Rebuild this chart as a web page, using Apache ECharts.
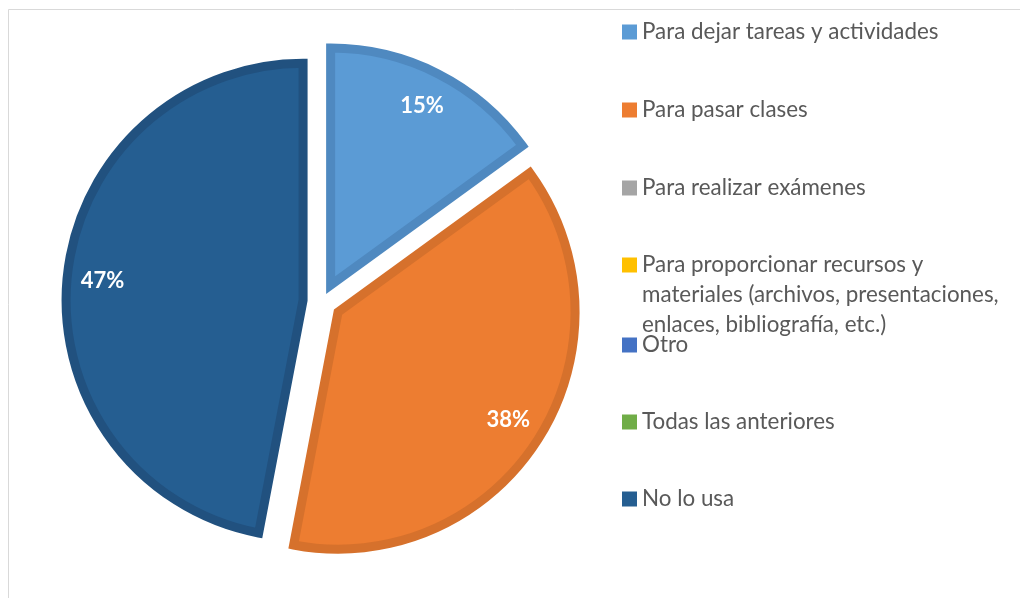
<!DOCTYPE html>
<html>
<head>
<meta charset="utf-8">
<script src="https://cdn.jsdelivr.net/npm/echarts@6/dist/echarts.min.js"></script>
<style>
html,body{margin:0;padding:0;background:#fff;}
#chart{width:1020px;height:598px;}
</style>
</head>
<body>
<div id="chart"></div>
<script>
const categories = [
  'Para dejar tareas y actividades',
  'Para pasar clases',
  'Para realizar exámenes',
  'Para proporcionar recursos y\nmateriales (archivos, presentaciones,\nenlaces, bibliografía, etc.)',
  'Otro',
  'Todas las anteriores',
  'No lo usa'
];
const values = [15, 38, 0, 0, 0, 0, 47];
const colors = ['#5B9BD5', '#ED7D31', '#A5A5A5', '#FFC000', '#4472C4', '#70AD47', '#255E91'];
const borderColors = ['#4F89C0', '#D6712C', '#959595', '#E6AD00', '#3D66B0', '#65A040', '#21517F'];

const chart = echarts.init(document.getElementById('chart'), null, {renderer: 'canvas'});

const mainData = categories.map((name, i) => ({
  name: name,
  value: values[i],
  selected: values[i] > 0,
  itemStyle: {
    color: colors[i],
    borderColor: borderColors[i],
    borderWidth: values[i] > 0 ? 9 : 0
  }
}));
const labelData = categories.map((name, i) => ({
  name: name,
  value: values[i],
  selected: values[i] > 0
}));

const FONT = 'Lato';
const legendText = {color: '#595959', fontFamily: FONT, fontSize: 22.4, lineHeight: 30};
const legendBase = {
  orient: 'vertical',
  left: 622,
  padding: 0,
  itemWidth: 15,
  itemHeight: 15,
  itemTextGap: 4,
  icon: 'rect',
  itemStyle: {borderWidth: 0},
  selectedMode: false,
  textStyle: legendText
};

chart.setOption({
  animation: false,
  backgroundColor: '#fff',
  color: colors,
  graphic: [{
    type: 'rect',
    silent: true,
    shape: {x: 8.5, y: 9.5, width: 1200, height: 800},
    style: {fill: 'none', stroke: '#D9D9D9', lineWidth: 1}
  }],
  legend: [
    Object.assign({}, legendBase, {
      top: 17, itemGap: 48,
      data: [categories[0], categories[1], categories[2]]
    }),
    Object.assign({}, legendBase, {
      top: 190,
      formatter: name => '\n\n' + name,
      data: [categories[3]]
    }),
    Object.assign({}, legendBase, {
      top: 330, itemGap: 47,
      data: [categories[4], categories[5], categories[6]]
    })
  ],
  series: [{
    type: 'pie',
    center: [322, 302],
    radius: [0, 237],
    startAngle: 90,
    clockwise: true,
    selectedMode: 'multiple',
    selectedOffset: 19,
    avoidLabelOverlap: false,
    percentPrecision: 0,
    silent: true,
    emphasis: {disabled: true},
    itemStyle: {borderJoin: 'miter', borderMiterLimit: 10},
    label: {show: false},
    labelLine: {show: false},
    data: mainData
  }, {
    type: 'pie',
    center: [322, 302],
    radius: [160, 237],
    startAngle: 90,
    clockwise: true,
    selectedMode: 'multiple',
    selectedOffset: 19,
    avoidLabelOverlap: false,
    percentPrecision: 0,
    silent: true,
    emphasis: {disabled: true},
    itemStyle: {color: 'transparent', borderWidth: 0},
    label: {
      show: true,
      position: 'inside',
      color: '#fff',
      fontFamily: FONT,
      fontWeight: 'bold',
      fontSize: 22,
      formatter: p => p.value > 0 ? p.percent + '%' : ''
    },
    labelLine: {show: false},
    data: labelData
  }]
});
</script>
</body>
</html>
